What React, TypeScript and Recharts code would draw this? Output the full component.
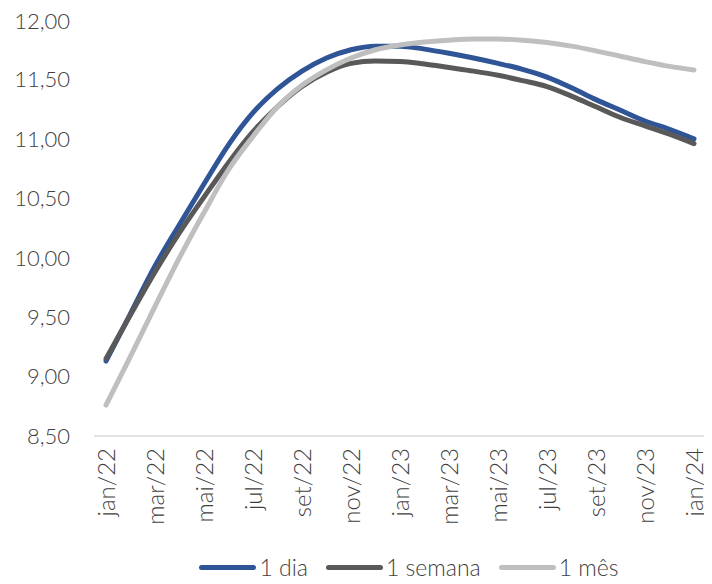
import React from "react";
import { LineChart, Line, XAxis, YAxis, Legend } from "recharts";

const months = [
  "jan/22", "fev/22", "mar/22", "abr/22", "mai/22", "jun/22", "jul/22", "ago/22", "set/22", "out/22", "nov/22", "dez/22",
  "jan/23", "fev/23", "mar/23", "abr/23", "mai/23", "jun/23", "jul/23", "ago/23", "set/23", "out/23", "nov/23", "dez/23",
  "jan/24",
];

const dia = [
  9.13, 9.53, 9.93, 10.28, 10.62, 10.95, 11.22, 11.42, 11.57, 11.68, 11.75, 11.78,
  11.78, 11.755, 11.72, 11.68, 11.635, 11.585, 11.52, 11.43, 11.33, 11.24, 11.15, 11.08,
  11.0,
];

const semana = [
  9.15, 9.52, 9.88, 10.21, 10.51, 10.8, 11.06, 11.27, 11.44, 11.56, 11.635, 11.655,
  11.65, 11.63, 11.6, 11.57, 11.535, 11.49, 11.44, 11.36, 11.27, 11.18, 11.11, 11.04,
  10.96,
];

const mes = [
  8.76, 9.17, 9.59, 10.0, 10.38, 10.74, 11.02, 11.27, 11.45, 11.58, 11.68, 11.75,
  11.79, 11.815, 11.83, 11.84, 11.84, 11.83, 11.81, 11.78, 11.74, 11.695, 11.65, 11.61,
  11.58,
];

const yTicks = [8.5, 9, 9.5, 10, 10.5, 11, 11.5, 12];

const seriesNames = ["1 dia", "1 semana", "1 mês"];
const seriesColors = ["#2F5597", "#595959", "#BFBFBF"];

const data = months.map((m, i) => ({ m, dia: dia[i], semana: semana[i], mes: mes[i] }));

const FONT = "Lato, 'DejaVu Sans', sans-serif";
const TEXT = "#404040";

const XTick = (props: any) => {
  const { x, y, payload } = props;
  return (
    <text
      x={x}
      y={y}
      transform={`rotate(-90, ${x}, ${y})`}
      textAnchor="end"
      dy="0.36em"
      fill={TEXT}
      fontFamily={FONT}
      fontWeight={300}
      fontSize={24}
    >
      {payload.value}
    </text>
  );
};

const LegendContent = () => (
  <div style={{ display: "flex", justifyContent: "center", alignItems: "center", height: 24, paddingLeft: 104, fontFamily: FONT, fontWeight: 300, fontSize: 23, color: TEXT }}>
    {seriesNames.map((n, i) => (
      <div key={n} style={{ display: "flex", alignItems: "center", marginLeft: i === 0 ? 0 : 18 }}>
        <div style={{ width: 57, height: 5, borderRadius: 3, background: seriesColors[i], marginRight: 3 }} />
        <span>{n}</span>
      </div>
    ))}
  </div>
);

export default function App() {
  return (
    <LineChart width={704} height={576} data={data} margin={{ top: 12, right: 6, bottom: 5, left: 0 }}>
      <XAxis
        dataKey="m"
        interval={1}
        tick={<XTick />}
        tickLine={false}
        tickMargin={6}
        height={119}
        axisLine={{ stroke: "#D9D9D9", strokeWidth: 1.5 }}
        padding={{ left: 12, right: 12 }}
      />
      <YAxis
        domain={[8.5, 12]}
        ticks={yTicks}
        width={86}
        axisLine={false}
        tickLine={false}
        tickSize={0}
        tickMargin={24}
        tick={{ fill: TEXT, fontFamily: FONT, fontWeight: 300, fontSize: 22 }}
        tickFormatter={(v: number) => v.toFixed(2).replace(".", ",")}
      />
      <Legend verticalAlign="bottom" content={<LegendContent />} />
      <Line type="monotone" dataKey="dia" stroke={seriesColors[0]} strokeWidth={5} strokeLinecap="round" dot={false} activeDot={false} isAnimationActive={false} />
      <Line type="monotone" dataKey="semana" stroke={seriesColors[1]} strokeWidth={5} strokeLinecap="round" dot={false} activeDot={false} isAnimationActive={false} />
      <Line type="monotone" dataKey="mes" stroke={seriesColors[2]} strokeWidth={5} strokeLinecap="round" dot={false} activeDot={false} isAnimationActive={false} />
    </LineChart>
  );
}
